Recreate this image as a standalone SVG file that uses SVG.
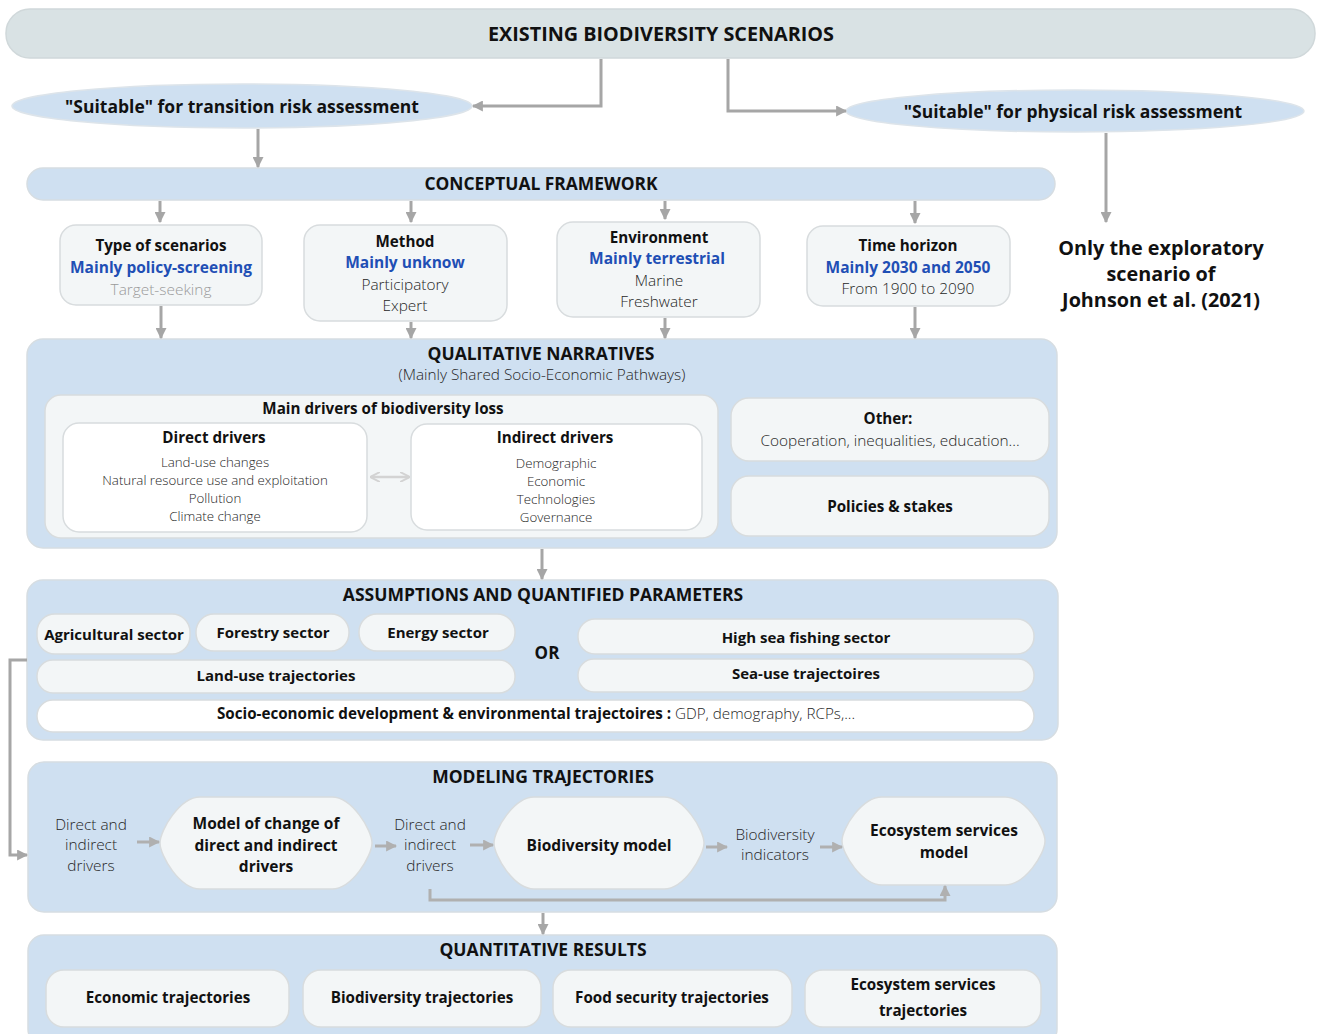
<svg xmlns="http://www.w3.org/2000/svg" width="1317" height="1034" viewBox="0 0 1317 1034">
<style>
text{font-family:"Open Sans","Noto Sans","Liberation Sans",sans-serif;text-anchor:middle;dominant-baseline:central}
.b{font-weight:700;fill:#111}
.l{font-weight:300;fill:#262626}
.blue{font-weight:700;fill:#1f4fb5}
.cont{fill:#cfe0f1;stroke:#d6dde2;stroke-width:1.5}
.box{fill:#f3f6f7;stroke:#d8dcde;stroke-width:1.5}
.wbox{fill:#ffffff;stroke:#d8dcde;stroke-width:1.5}
.conn{fill:none;stroke:#a6a6a6;stroke-width:3}
.lconn{fill:none;stroke:#b0b0b0;stroke-width:3}
</style>
<defs>
<marker id="ah" viewBox="0 0 10 10" refX="9" refY="5" markerWidth="11" markerHeight="11" markerUnits="userSpaceOnUse" orient="auto"><path d="M0,0 L10,5 L0,10 z" fill="#a6a6a6"/></marker>
<marker id="lah" viewBox="0 0 10 10" refX="9" refY="5" markerWidth="11" markerHeight="11" markerUnits="userSpaceOnUse" orient="auto"><path d="M0,0 L10,5 L0,10 z" fill="#b0b0b0"/></marker>
<marker id="dah" viewBox="0 0 10 10" refX="9" refY="5" markerWidth="10" markerHeight="10" markerUnits="userSpaceOnUse" orient="auto-start-reverse"><path d="M0,0 L10,5 L0,10" fill="none" stroke="#d3d3d3" stroke-width="2"/></marker>
</defs>

<g id="existing">
<rect x="6" y="9" width="1309" height="49" rx="24" fill="#d9e2e4" stroke="#d0d8da" stroke-width="1.5"/>
<text x="661" y="33" class="b" font-size="19.8">EXISTING BIODIVERSITY SCENARIOS</text>
</g>

<g id="transition">
<ellipse cx="242" cy="106" rx="230" ry="22" fill="#cfe0f1" stroke="#dde4ea" stroke-width="1.5"/>
<text x="242" y="106" class="b" font-size="17.5">"Suitable" for transition risk assessment</text>
</g>

<g id="physical">
<ellipse cx="1075" cy="111" rx="229" ry="21" fill="#cfe0f1" stroke="#dde4ea" stroke-width="1.5"/>
<text x="1073" y="111" class="b" font-size="17.5">"Suitable" for physical risk assessment</text>
</g>

<g id="johnson">
<text x="1161" y="247" class="b" font-size="19.8">Only the exploratory</text>
<text x="1161" y="273" class="b" font-size="19.8">scenario of</text>
<text x="1161" y="299" class="b" font-size="19.8">Johnson et al. (2021)</text>
</g>

<g id="conceptual">
<rect x="27" y="168" width="1028" height="32" rx="16" class="cont"/>
<text x="541" y="183" class="b" font-size="17.4">CONCEPTUAL FRAMEWORK</text>
</g>

<g id="type">
<rect x="60" y="225" width="202" height="80" rx="16" class="box"/>
<text x="161" y="245" class="b" font-size="15.2">Type of scenarios</text>
<text x="161" y="267" class="blue" font-size="15.5">Mainly policy-screening</text>
<text x="161" y="289" class="l" font-size="15.4" style="fill:#9a9a9a">Target-seeking</text>
</g>

<g id="method">
<rect x="304" y="225" width="203" height="96" rx="16" class="box"/>
<text x="405" y="241" class="b" font-size="15.2">Method</text>
<text x="405" y="262" class="blue" font-size="15.5">Mainly unknow</text>
<text x="405" y="284" class="l" font-size="15.4">Participatory</text>
<text x="405" y="305" class="l" font-size="15.4">Expert</text>
</g>

<g id="environment">
<rect x="557" y="222" width="203" height="95" rx="16" class="box"/>
<text x="659" y="237" class="b" font-size="15.2">Environment</text>
<text x="657" y="258" class="blue" font-size="15.5">Mainly terrestrial</text>
<text x="659" y="280" class="l" font-size="15.4">Marine</text>
<text x="659" y="301" class="l" font-size="15.4">Freshwater</text>
</g>

<g id="time">
<rect x="807" y="226" width="203" height="80" rx="16" class="box"/>
<text x="908" y="245" class="b" font-size="15.2">Time horizon</text>
<text x="908" y="267" class="blue" font-size="15.5">Mainly 2030 and 2050</text>
<text x="908" y="288" class="l" font-size="15.4">From 1900 to 2090</text>
</g>

<g id="narratives">
<rect x="27" y="339" width="1030" height="209" rx="16" class="cont"/>
<text x="541" y="353" class="b" font-size="17.5">QUALITATIVE NARRATIVES</text>
<text x="542" y="374" class="l" font-size="15.3">(Mainly Shared Socio-Economic Pathways)</text>
</g>

<g id="main-drivers">
<rect x="45" y="395" width="673" height="143" rx="16" class="box"/>
<text x="383" y="408" class="b" font-size="15.2">Main drivers of biodiversity loss</text>
</g>

<g id="direct-drivers">
<rect x="63" y="423" width="304" height="109" rx="16" class="wbox"/>
<text x="214" y="437" class="b" font-size="15.2">Direct drivers</text>
<text x="215" y="462" class="l" font-size="13.3">Land-use changes</text>
<text x="215" y="480" class="l" font-size="13.3">Natural resource use and exploitation</text>
<text x="215" y="498" class="l" font-size="13.3">Pollution</text>
<text x="215" y="516" class="l" font-size="13.3">Climate change</text>
</g>

<g id="indirect-drivers">
<rect x="411" y="424" width="291" height="106" rx="16" class="wbox"/>
<text x="555" y="437" class="b" font-size="15.2">Indirect drivers</text>
<text x="556" y="463" class="l" font-size="13.3">Demographic</text>
<text x="556" y="481" class="l" font-size="13.3">Economic</text>
<text x="556" y="499" class="l" font-size="13.3">Technologies</text>
<text x="556" y="517" class="l" font-size="13.3">Governance</text>
</g>

<g id="other">
<rect x="731" y="398" width="318" height="63" rx="18" class="box"/>
<text x="888" y="418" class="b" font-size="15.2">Other:</text>
<text x="890" y="440" class="l" font-size="15.4">Cooperation, inequalities, education...</text>
</g>

<g id="policies">
<rect x="731" y="476" width="318" height="60" rx="18" class="box"/>
<text x="890" y="506" class="b" font-size="15.2">Policies &amp; stakes</text>
</g>

<g id="assumptions">
<rect x="27" y="580" width="1031" height="160" rx="16" class="cont"/>
<text x="543" y="594" class="b" font-size="17.5">ASSUMPTIONS AND QUANTIFIED PARAMETERS</text>
<text x="547" y="652" class="b" font-size="17">OR</text>
</g>

<g id="agri">
<rect x="37" y="614" width="153" height="40" rx="18" class="box"/>
<text x="114" y="634" class="b" font-size="15">Agricultural sector</text>
</g>
<g id="forestry">
<rect x="196" y="614" width="153" height="37" rx="18" class="box"/>
<text x="273" y="632" class="b" font-size="15">Forestry sector</text>
</g>
<g id="energy">
<rect x="359" y="614" width="156" height="37" rx="18" class="box"/>
<text x="438" y="632" class="b" font-size="15">Energy sector</text>
</g>
<g id="fishing">
<rect x="578" y="619" width="456" height="35" rx="17" class="box"/>
<text x="806" y="637" class="b" font-size="15">High sea fishing sector</text>
</g>
<g id="land-use">
<rect x="37" y="660" width="478" height="33" rx="16" class="box"/>
<text x="276" y="675" class="b" font-size="15">Land-use trajectories</text>
</g>
<g id="sea-use">
<rect x="578" y="659" width="456" height="33" rx="16" class="box"/>
<text x="806" y="673" class="b" font-size="15">Sea-use trajectoires</text>
</g>
<g id="socio">
<rect x="37" y="700" width="997" height="32" rx="16" class="wbox"/>
<text x="536" y="713" font-size="15.2"><tspan class="b">Socio-economic development &amp; environmental trajectoires : </tspan><tspan class="l">GDP, demography, RCPs,...</tspan></text>
</g>

<g id="modeling">
<rect x="28" y="762" width="1029" height="150" rx="16" class="cont"/>
<text x="543" y="776" class="b" font-size="17.5">MODELING TRAJECTORIES</text>
<text x="91" y="824" class="l" font-size="15.4">Direct and</text>
<text x="91" y="844" class="l" font-size="15.4">indirect</text>
<text x="91" y="865" class="l" font-size="15.4">drivers</text>
<text x="430" y="824" class="l" font-size="15.4">Direct and</text>
<text x="430" y="844" class="l" font-size="15.4">indirect</text>
<text x="430" y="865" class="l" font-size="15.4">drivers</text>
<text x="775" y="834" class="l" font-size="15.4">Biodiversity</text>
<text x="775" y="854" class="l" font-size="15.4">indicators</text>
</g>

<g id="model-change">
<path d="M200,797 H332 C352,797 372,830 372,843 C372,856 352,889 332,889 H200 C180,889 160,856 160,843 C160,830 180,797 200,797 Z" class="box"/>
<text x="266" y="823" class="b" font-size="15.5">Model of change of</text>
<text x="266" y="845" class="b" font-size="15.5">direct and indirect</text>
<text x="266" y="866" class="b" font-size="15.5">drivers</text>
</g>

<g id="bio-model">
<path d="M534,797 H664 C684,797 704,830 704,843 C704,856 684,889 664,889 H534 C514,889 494,856 494,843 C494,830 514,797 534,797 Z" class="box"/>
<text x="599" y="845" class="b" font-size="15.5">Biodiversity model</text>
</g>

<g id="eco-model">
<path d="M882,797 H1005 C1025,797 1045,828 1045,841 C1045,854 1025,885 1005,885 H882 C862,885 842,854 842,841 C842,828 862,797 882,797 Z" class="box"/>
<text x="944" y="830" class="b" font-size="15.5">Ecosystem services</text>
<text x="944" y="852" class="b" font-size="15.5">model</text>
</g>

<g id="results">
<rect x="28" y="935" width="1029" height="110" rx="16" class="cont"/>
<text x="543" y="949" class="b" font-size="17.5">QUANTITATIVE RESULTS</text>
</g>
<g id="res-economic">
<rect x="46" y="970" width="243" height="57" rx="18" class="box"/>
<text x="168" y="997" class="b" font-size="15.2">Economic trajectories</text>
</g>
<g id="res-bio">
<rect x="303" y="970" width="238" height="57" rx="18" class="box"/>
<text x="422" y="997" class="b" font-size="15.2">Biodiversity trajectories</text>
</g>
<g id="res-food">
<rect x="553" y="970" width="239" height="57" rx="18" class="box"/>
<text x="672" y="997" class="b" font-size="15.2">Food security trajectories</text>
</g>
<g id="res-eco">
<rect x="805" y="970" width="236" height="57" rx="18" class="box"/>
<text x="923" y="984" class="b" font-size="15.2">Ecosystem services</text>
<text x="923" y="1010" class="b" font-size="15.2">trajectories</text>
</g>

<g id="connectors">
<path d="M601,59 V106 H473" class="conn" marker-end="url(#ah)"/>
<path d="M728,59 V111 H846" class="conn" marker-end="url(#ah)"/>
<path d="M258,129 V167" class="conn" marker-end="url(#ah)"/>
<path d="M1106,133 V222" class="conn" marker-end="url(#ah)"/>
<path d="M160,201 V222" class="conn" marker-end="url(#ah)"/>
<path d="M411,201 V222" class="conn" marker-end="url(#ah)"/>
<path d="M665,201 V219" class="conn" marker-end="url(#ah)"/>
<path d="M915,201 V223" class="conn" marker-end="url(#ah)"/>
<path d="M161,306 V338" class="conn" marker-end="url(#ah)"/>
<path d="M411,322 V338" class="conn" marker-end="url(#ah)"/>
<path d="M665,318 V338" class="conn" marker-end="url(#ah)"/>
<path d="M915,307 V338" class="conn" marker-end="url(#ah)"/>
<path d="M542,549 V579" class="conn" marker-end="url(#ah)"/>
<path d="M27,660 H10 V855 H27" class="conn" marker-end="url(#ah)"/>
<path d="M543,913 V934" class="conn" marker-end="url(#ah)"/>
<path d="M371,477 H409" fill="none" stroke="#d3d3d3" stroke-width="2.5" marker-start="url(#dah)" marker-end="url(#dah)"/>
<path d="M137,842 H159" class="lconn" marker-end="url(#lah)"/>
<path d="M375,846 H396" class="lconn" marker-end="url(#lah)"/>
<path d="M470,845 H493" class="lconn" marker-end="url(#lah)"/>
<path d="M706,847 H727" class="lconn" marker-end="url(#lah)"/>
<path d="M820,847 H842" class="lconn" marker-end="url(#lah)"/>
<path d="M430,889 V900 H945 V886" class="lconn" marker-end="url(#lah)"/>
</g>
</svg>
